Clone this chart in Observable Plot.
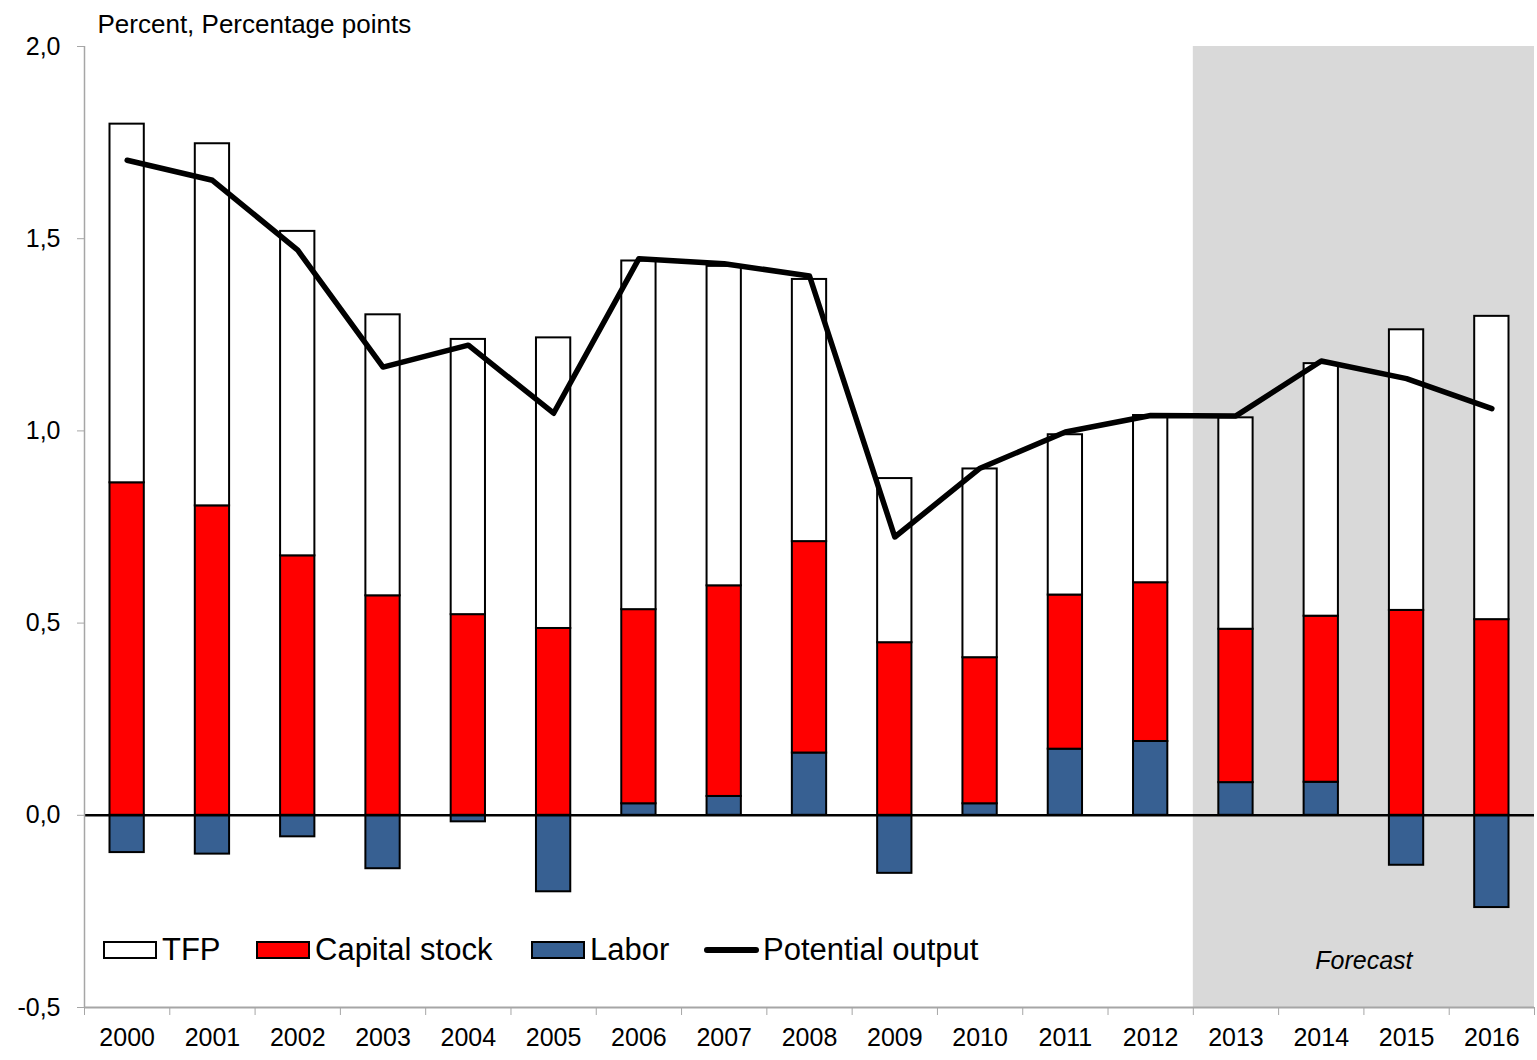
<!DOCTYPE html>
<html>
<head>
<meta charset="utf-8">
<script src="https://cdn.jsdelivr.net/npm/d3@7"></script>
<script src="https://cdn.jsdelivr.net/npm/@observablehq/plot@0.6"></script>
<style>
  body { margin: 0; background: #fff; font-family: "Liberation Sans", Arial, sans-serif; }
  #wrap { position: relative; width: 1537px; height: 1060px; }
  .item { position: absolute; top: 930px; height: 40px; display: flex; align-items: center; font-size: 31px; color: #000; white-space: nowrap; }
  .sw { width: 50px; height: 14px; border: 2px solid #000; margin-right: 5px; }
  .ln { width: 55px; height: 6px; background: #000; border-radius: 3px; margin-right: 4px; }
</style>
</head>
<body>
<div id="wrap"></div>
<script>
const years = [2000,2001,2002,2003,2004,2005,2006,2007,2008,2009,2010,2011,2012,2013,2014,2015,2016];
const labor     = [-0.097,-0.101,-0.056,-0.139,-0.017,-0.199,0.030,0.049,0.162,-0.151,0.030,0.172,0.192,0.085,0.086,-0.130,-0.240];
const capital   = [0.865,0.805,0.675,0.571,0.522,0.486,0.505,0.548,0.550,0.449,0.380,0.401,0.413,0.399,0.432,0.533,0.509];
const tfp       = [0.933,0.942,0.844,0.731,0.716,0.756,0.907,0.831,0.682,0.427,0.491,0.417,0.435,0.550,0.657,0.730,0.789];
const potential = [1.704,1.652,1.470,1.166,1.223,1.046,1.448,1.435,1.403,0.724,0.903,0.997,1.040,1.039,1.182,1.136,1.058];
const seriesNames = ["TFP","Capital stock","Labor","Potential output"];
const seriesColors = ["#ffffff","#ff0000","#376092","#000000"];
const yTicks = [-0.5,0,0.5,1,1.5,2];
const forecastStart = 2013;
const yLabel = "Percent, Percentage points";
const forecastLabel = "Forecast";
const legendLefts = [103, 256, 531, 704];

const rows = [];
years.forEach((y, i) => {
  rows.push({year: y, comp: "Labor", value: labor[i]});
  rows.push({year: y, comp: "Capital stock", value: capital[i]});
  rows.push({year: y, comp: "TFP", value: tfp[i]});
});
const lineRows = years.map((y, i) => ({year: y, value: potential[i]}));
const lastYear = years[years.length - 1];
const boundaries = [...years, lastYear + 1];
const font = "'Liberation Sans', Arial, sans-serif";

const chart = Plot.plot({
  width: 1537,
  height: 1060,
  marginLeft: 84,
  marginRight: 3,
  marginTop: 46,
  marginBottom: 53,
  style: {fontFamily: font, background: "#fff", overflow: "visible"},
  x: {type: "linear", domain: [years[0], lastYear + 1], axis: null},
  y: {domain: [yTicks[0], yTicks[yTicks.length - 1]], axis: null},
  color: {domain: seriesNames.slice(0, 3), range: seriesColors.slice(0, 3)},
  marks: [
    Plot.rect([forecastStart], {x1: d => d, x2: lastYear + 1, y1: yTicks[0], y2: yTicks[yTicks.length - 1], fill: "#d9d9d9"}),
    Plot.rectY(rows, Plot.stackY({x: "year", interval: 1, y: "value", fill: "comp", stroke: "#000", strokeWidth: 2, insetLeft: 25.5, insetRight: 25.5})),
    Plot.ruleY([0], {stroke: "#000", strokeWidth: 2.5}),
    Plot.line(lineRows, {x: d => d.year + 0.5, y: "value", stroke: "#000", strokeWidth: 5.5, strokeLinecap: "round", strokeLinejoin: "round"}),
    Plot.ruleX([years[0]], {stroke: "#a6a6a6", strokeWidth: 1.5}),
    Plot.ruleY([yTicks[0]], {stroke: "#a6a6a6", strokeWidth: 2}),
    Plot.axisY({ticks: yTicks, tickFormat: d => d.toFixed(1).replace(".", ","), tickSize: 7, tickPadding: 17, fontSize: 25, stroke: "#a6a6a6", fill: "#000", label: null}),
    Plot.axisX({ticks: boundaries, tickFormat: () => "", tickSize: 8, stroke: "#a6a6a6", label: null}),
    Plot.axisX({ticks: years.map(y => y + 0.5), tickFormat: d => String(Math.floor(d)), tickSize: 0, tickPadding: 21, fontSize: 25, fill: "#000", label: null}),
    Plot.text([yLabel], {frameAnchor: "top-left", text: d => d, dx: 13, dy: -22, textAnchor: "start", lineAnchor: "middle", fontSize: 26, fill: "#000"}),
    Plot.text([forecastLabel], {x: () => (forecastStart + lastYear + 1) / 2, frameAnchor: "bottom", text: d => d, dy: -47, lineAnchor: "middle", fontSize: 25, fontStyle: "italic", fill: "#000"})
  ]
});

const wrap = document.getElementById("wrap");
wrap.appendChild(chart);
seriesNames.forEach((name, i) => {
  const item = document.createElement("div");
  item.className = "item";
  item.style.left = legendLefts[i] + "px";
  const sw = document.createElement("span");
  if (i === 3) { sw.className = "ln"; }
  else { sw.className = "sw"; sw.style.background = seriesColors[i]; }
  const t = document.createElement("span");
  t.textContent = name;
  item.appendChild(sw);
  item.appendChild(t);
  wrap.appendChild(item);
});
</script>
</body>
</html>
